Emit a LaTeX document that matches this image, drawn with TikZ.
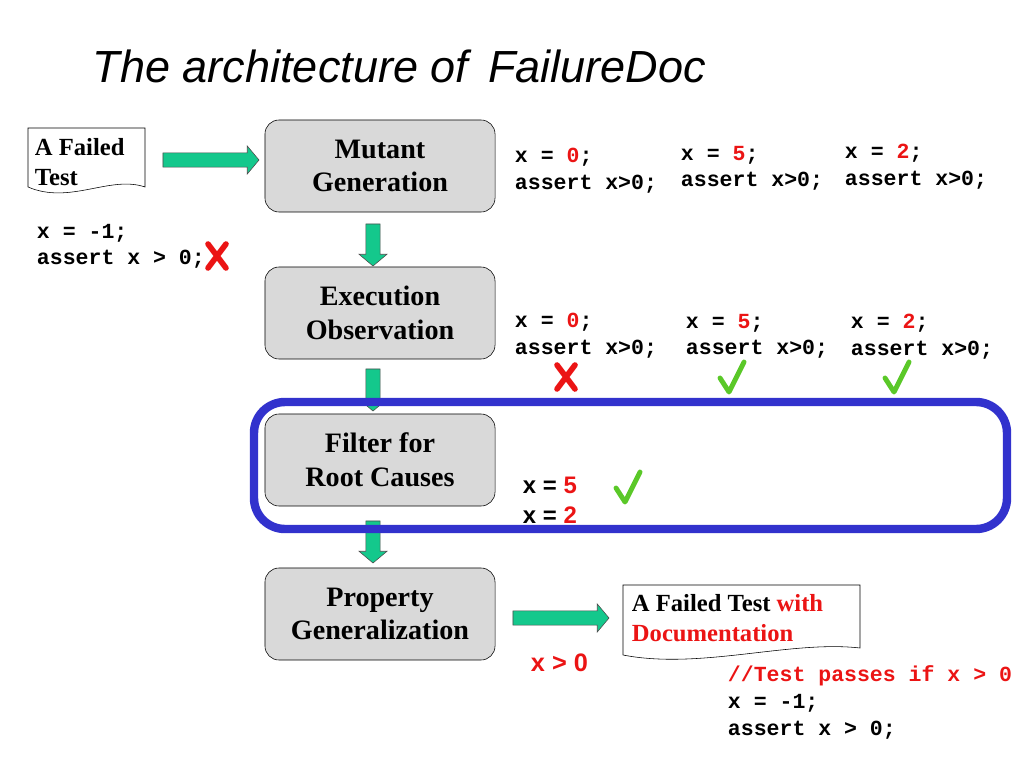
\documentclass[tikz,border=0pt]{standalone}
\usepackage{fontspec}
\setmainfont{Liberation Serif}
\setsansfont{Liberation Sans}
\setmonofont{Liberation Mono}
\usetikzlibrary{positioning,shapes.arrows,calc}
\definecolor{arrowgreen}{RGB}{20,200,140}
\definecolor{boxgray}{RGB}{217,217,217}
\definecolor{ringblue}{RGB}{50,50,205}
\definecolor{codered}{RGB}{235,20,20}
\definecolor{checkgreen}{RGB}{90,200,40}
\tikzset{
  stage/.style={draw, rounded corners=10pt, fill=boxgray, minimum width=5.75cm, minimum height=2.3cm,
    align=center, font=\fontsize{20}{24}\selectfont\bfseries, text=black},
  fat/.style={single arrow, draw=black!70, fill=arrowgreen, minimum height=#1, minimum width=0.7cm,
    single arrow head extend=0.17cm, single arrow tip angle=100, inner xsep=0pt, inner ysep=0.17cm},
  code/.style={anchor=north west, align=left, font=\fontsize{15.3}{19}\selectfont\ttfamily\bfseries},
  big/.style={anchor=west, font=\fontsize{17}{21}\selectfont\sffamily\bfseries},
}
\newcommand{\rd}[1]{\textcolor{codered}{#1}}
\newcommand{\cross}[1]{\draw[codered, line width=4pt, line cap=round] ($(#1)+(-9,-12)$) -- ($(#1)+(9,12)$) ($(#1)+(9,-12)$) -- ($(#1)+(-9,12)$);}
\newcommand{\tick}[1]{\draw[checkgreen, line width=3.5pt, line cap=round, line join=round] ($(#1)+(-12,0)$) -- ($(#1)+(-3,14)$) -- ($(#1)+(12,-16)$);}
\begin{document}
\begin{tikzpicture}[x=0.025cm, y=-0.025cm]
\useasboundingbox (0,0) rectangle (1024,768);

\node[anchor=west, font=\fontsize{32}{38}\selectfont\sffamily\itshape] (title) at (88,66) {The architecture of\, FailureDoc};

% process steps
\node[stage] (mutant) at (380,166) {Mutant\\Generation};
\node[stage] (exec) at (380,313) {Execution\\Observation};
\node[stage] (filter) at (380,460) {Filter for\\Root Causes};
\node[stage] (prop) at (380,614) {Property\\Generalization};

% fat arrows
\node[fat=2.4cm] (a1) at (208,160) {};
\node[fat=1.05cm, rotate=-90] (a2) at (373,242) {};
\node[fat=1.05cm, rotate=-90] (a3) at (373,387) {};
\node[fat=1.05cm, rotate=-90] (a4) at (373,539) {};
\node[fat=2.4cm] (a5) at (558,618) {};

% documents
\draw[fill=white] (28,128) -- (145,128) -- (145,187) .. controls (110,175) and (70,205) .. (28,187) -- cycle;
\node[anchor=north west, align=left, font=\fontsize{17.5}{22}\selectfont\bfseries] (failed) at (30,133) {A Failed\\Test};
\draw[fill=white] (623,585) -- (860,585) -- (860,648) .. controls (790,640) and (700,670) .. (623,655) -- cycle;
\node[anchor=north west, align=left, font=\fontsize{17.5}{22}\selectfont\bfseries] (doc) at (627,589) {A Failed Test \rd{with}\\\rd{Documentation}};

% code snippets
\node[code] (orig) at (32,219) {x = -1;\\assert x > 0;};
\coordinate (c0) at (217,256); \cross{c0}

\node[code] (m1) at (510,143) {x = \rd{0};\\assert x>0;};
\node[code] (m2) at (676,141) {x = \rd{5};\\assert x>0;};
\node[code] (m3) at (840,139) {x = \rd{2};\\assert x>0;};

\node[code] (e1) at (510,308) {x = \rd{0};\\assert x>0;};
\node[code] (e2) at (681,309) {x = \rd{5};\\assert x>0;};
\node[code] (e3) at (846,309) {x = \rd{2};\\assert x>0;};
\coordinate (c1) at (566,377); \cross{c1}
\coordinate (c2) at (732,378); \tick{c2}
\coordinate (c3) at (897,378); \tick{c3}

\node[big] (r1) at (518,485) {x = \rd{5}};
\node[big] (r2) at (518,515) {x = \rd{2}};
\coordinate (c4) at (628,488); \tick{c4}

\draw[ringblue, line width=6pt, rounded corners=22pt] (254,402) rectangle (1007,529);

\node[big, text=codered, font=\fontsize{18}{22}\selectfont\sffamily\bfseries] (prop-out) at (526,663) {x > 0};
\node[code] (final) at (723,661) {\rd{//Test passes if x > 0}\\x = -1;\\assert x > 0;};
\end{tikzpicture}
\end{document}
